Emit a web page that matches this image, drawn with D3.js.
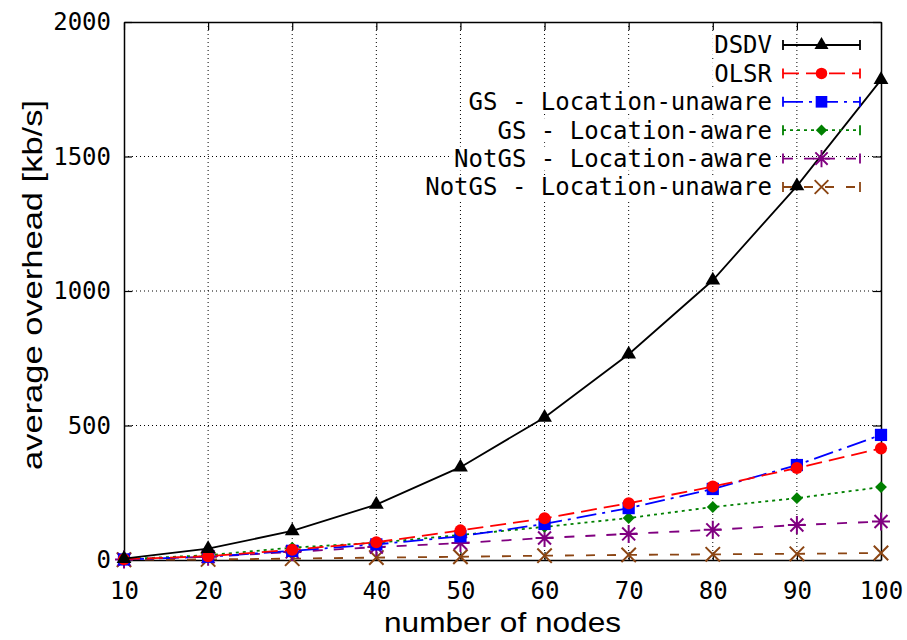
<!DOCTYPE html>
<meta charset="utf-8">
<style>
    body { margin: 0; background: #fff; }
    .tick-label { font-family: 'DejaVu Sans Mono'; font-size: 24px; }
    .axis-title { font-family: 'Liberation Sans'; font-size: 28px; }
</style>
<script src="https://d3js.org/d3.v7.min.js"></script>
<div id="graph"></div>
<script>
    const nodes = [10, 20, 30, 40, 50, 60, 70, 80, 90, 100];
    const xTicks = [10, 20, 30, 40, 50, 60, 70, 80, 90, 100];
    const yTicks = [0, 500, 1000, 1500, 2000];

    const dsdv = [5, 42, 108, 206, 345, 530, 765, 1040, 1390, 1785];
    const olsr = [3, 14, 38, 66, 110, 155, 211, 273, 342, 415];
    const gsUnaware = [2, 12, 34, 58, 88, 134, 193, 264, 353, 465];
    const gsAware = [3, 18, 46, 64, 93, 123, 156, 197, 230, 271];
    const notgsAware = [2, 12, 30, 48, 63, 82, 97, 112, 130, 143];
    const notgsUnaware = [1, 2, 5, 9, 12, 16, 19, 21, 23, 26];

    const series = [
        {name: "DSDV", values: dsdv, color: "#000000", dash: null, marker: "triangle"},
        {name: "OLSR", values: olsr, color: "#ff0000", dash: "16,7", marker: "circle"},
        {name: "GS - Location-unaware", values: gsUnaware, color: "#0000ff", dash: "20,6,3,6", marker: "square"},
        {name: "GS - Location-aware", values: gsAware, color: "#008000", dash: "3,4", marker: "diamond"},
        {name: "NotGS - Location-aware", values: notgsAware, color: "#800080", dash: "10,11", marker: "star"},
        {name: "NotGS - Location-unaware", values: notgsUnaware, color: "#8b4513", dash: "9,12", marker: "cross"}
    ];

    const W = 907, H = 640;
    const margin = {top: 22, right: 26, bottom: 80, left: 124};
    const width = W - margin.left - margin.right,
        height = H - margin.top - margin.bottom;

    const svg = d3.select("#graph").append("svg")
        .attr("width", W).attr("height", H);
    const g = svg.append("g").attr("transform", `translate(${margin.left},${margin.top})`);

    const x = d3.scaleLinear().domain([10, 100]).range([0, width]);
    const y = d3.scaleLinear().domain([0, 2000]).range([height, 0]);

    // grid
    g.selectAll("line.vgrid").data(xTicks.slice(1, -1)).enter().append("line")
        .attr("x1", d => x(d)).attr("x2", d => x(d)).attr("y1", 0).attr("y2", height)
        .attr("stroke", "#000").attr("stroke-width", 1).attr("stroke-dasharray", "1,3");
    g.selectAll("line.hgrid").data(yTicks.slice(1, -1)).enter().append("line")
        .attr("y1", d => y(d)).attr("y2", d => y(d)).attr("x1", 0).attr("x2", width)
        .attr("stroke", "#000").attr("stroke-width", 1).attr("stroke-dasharray", "1,3");

    // axes with mirrored inward ticks
    const tl = 8;
    const axB = g.append("g").attr("transform", `translate(0,${height})`)
        .call(d3.axisBottom(x).tickValues(xTicks).tickSizeInner(-tl).tickSizeOuter(0).tickPadding(22));
    const axT = g.append("g")
        .call(d3.axisTop(x).tickValues(xTicks).tickSizeInner(-tl).tickSizeOuter(0).tickFormat(""));
    const axL = g.append("g")
        .call(d3.axisLeft(y).tickValues(yTicks).tickSizeInner(-tl).tickSizeOuter(0).tickPadding(13).tickFormat(d3.format("d")));
    const axR = g.append("g").attr("transform", `translate(${width},0)`)
        .call(d3.axisRight(y).tickValues(yTicks).tickSizeInner(-tl).tickSizeOuter(0).tickFormat(""));
    [axB, axT, axL, axR].forEach(a => {
        a.selectAll("path.domain").attr("stroke", "#000").attr("stroke-width", 1.5);
        a.selectAll(".tick line").attr("stroke", "#000").attr("stroke-width", 1.2);
        a.selectAll("text").attr("class", "tick-label").attr("font-family", null).attr("font-size", null).attr("fill", "#000");
    });

    function markerPath(type, s) {
        if (type === "star") {
            const r = s;
            return `M${-r},0H${r}M0,${-r}V${r}M${-r * 0.72},${-r * 0.72}L${r * 0.72},${r * 0.72}M${-r * 0.72},${r * 0.72}L${r * 0.72},${-r * 0.72}`;
        }
        if (type === "cross") {
            const r = s * 0.8;
            return `M${-r},${-r}L${r},${r}M${-r},${r}L${r},${-r}`;
        }
        if (type === "diamond") {
            const r = s * 0.66;
            return `M0,${-r}L${r},0L0,${r}L${-r},0Z`;
        }
        const sym = {triangle: d3.symbolTriangle, circle: d3.symbolCircle, square: d3.symbolSquare}[type];
        const area = {triangle: 95, circle: 115, square: 150}[type];
        return d3.symbol().type(sym).size(area)();
    }

    function drawMarker(sel, d, scale) {
        const p = sel.append("path").attr("d", markerPath(d.marker, 9))
            .attr("transform", `scale(${scale || 1})`);
        if (d.marker === "star" || d.marker === "cross") {
            p.attr("fill", "none").attr("stroke", d.color).attr("stroke-width", 2);
        } else {
            p.attr("fill", d.color).attr("stroke", "none");
        }
    }

    const line = d3.line().x((d, i) => x(nodes[i])).y(d => y(d));

    // draw in reverse so DSDV sits on top
    const sg = g.selectAll("g.series").data(series.slice().reverse()).enter().append("g");
    sg.append("path")
        .attr("d", d => line(d.values))
        .attr("fill", "none")
        .attr("stroke", d => d.color)
        .attr("stroke-width", 1.8)
        .attr("stroke-dasharray", d => d.dash);
    sg.each(function (d) {
        const grp = d3.select(this);
        d.values.forEach((v, i) => {
            const m = grp.append("g").attr("transform", `translate(${x(nodes[i])},${y(v)})`);
            drawMarker(m, d);
        });
    });

    // legend
    const legX1 = 783 - margin.left, legX2 = 860 - margin.left, legText = 772 - margin.left;
    const leg = g.selectAll("g.leg").data(series).enter().append("g")
        .attr("transform", (d, i) => `translate(0,${45 - margin.top + i * 28.4})`);
    leg.append("rect")
        .attr("x", d => legText - d.name.length * 14.45 - 2).attr("y", -12)
        .attr("width", d => d.name.length * 14.45 + 4).attr("height", 24).attr("fill", "#fff");
    leg.append("text").attr("class", "tick-label")
        .attr("x", legText).attr("y", 0).attr("dy", "0.35em").attr("text-anchor", "end")
        .text(d => d.name);
    leg.append("path")
        .attr("d", `M${legX1},0H${legX2}`)
        .attr("fill", "none").attr("stroke", d => d.color).attr("stroke-width", 1.8)
        .attr("stroke-dasharray", d => d.dash);
    leg.append("path")
        .attr("d", `M${legX1},-5V5M${legX2},-5V5`)
        .attr("fill", "none").attr("stroke", d => d.color).attr("stroke-width", 1.8);
    leg.each(function (d) {
        const m = d3.select(this).append("g").attr("transform", `translate(${(legX1 + legX2) / 2},0)`);
        drawMarker(m, d, 0.95);
    });

    // axis titles
    svg.append("text").attr("class", "axis-title")
        .attr("x", margin.left + width / 2).attr("y", 632)
        .attr("text-anchor", "middle")
        .attr("textLength", 237).attr("lengthAdjust", "spacingAndGlyphs")
        .text("number of nodes");
    svg.append("text").attr("class", "axis-title")
        .attr("transform", `translate(42,${285}) rotate(-90)`)
        .attr("text-anchor", "middle")
        .attr("textLength", 370).attr("lengthAdjust", "spacingAndGlyphs")
        .text("average overhead [kb/s]");
</script>
